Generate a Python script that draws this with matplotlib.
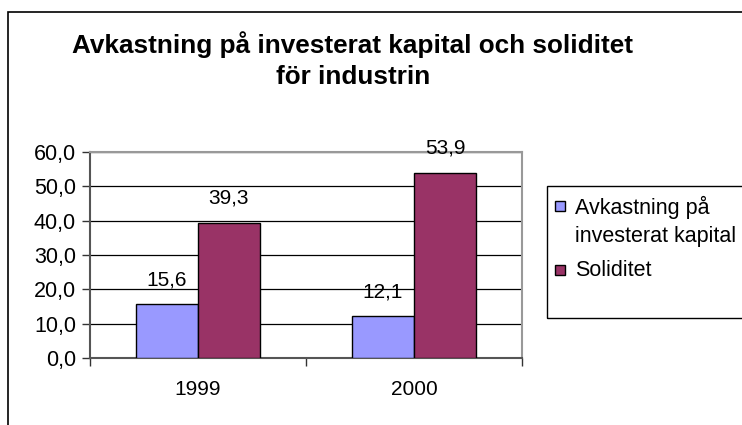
import numpy as np
import matplotlib
matplotlib.use("Agg")
import matplotlib.pyplot as plt
from matplotlib.patches import Rectangle

# data
years = ["1999", "2000"]
avkastning = [15.6, 12.1]
soliditet = [39.3, 53.9]
series_names = ["Avkastning på\ninvesterat kapital", "Soliditet"]
series_colors = ["#9999FF", "#993366"]
yticks = [0, 10, 20, 30, 40, 50, 60]

plt.rcParams["font.family"] = ["Liberation Sans", "DejaVu Sans"]

W, H = 742, 425
fig = plt.figure(figsize=(W / 100, H / 100), dpi=100)

# outer chart border (right and bottom fall outside the picture)
fig.patches.append(Rectangle((8 / W, -0.1), 1.2, 1.1 - 12 / H,
                             transform=fig.transFigure, fill=False,
                             edgecolor="#000000", linewidth=1.2))

# plot area
ax = fig.add_axes([90 / W, 1 - 358 / H, (522 - 90) / W, (358 - 152) / H])

x = np.arange(len(years))
bw = 0.287
b1 = ax.bar(x - bw / 2, avkastning, bw, color=series_colors[0], edgecolor="black",
            linewidth=1, zorder=3)
b2 = ax.bar(x + bw / 2, soliditet, bw, color=series_colors[1], edgecolor="black",
            linewidth=1, zorder=3)

for bars in (b1, b2):
    ax.bar_label(bars, labels=[f"{v:.1f}".replace(".", ",") for v in bars.datavalues],
                 padding=11, fontsize=15)

ax.set_xlim(-0.5, 1.5)
ax.set_ylim(0, 60)
ax.set_yticks(yticks)
ax.set_yticklabels([f"{v:.1f}".replace(".", ",") for v in yticks], fontsize=15.5)
ax.yaxis.grid(True, color="black", linewidth=0.9, zorder=0)
ax.set_axisbelow(True)

# category boundaries get tick marks, centres get the labels
ax.set_xticks([-0.5, 0.5, 1.5])
ax.set_xticklabels([])
ax.set_xticks(x, minor=True)
ax.set_xticklabels(years, minor=True, fontsize=15)
ax.tick_params(axis="x", which="major", length=6, width=1, color="#333333", direction="out")
ax.tick_params(axis="x", which="minor", length=0, pad=16)
ax.tick_params(axis="y", length=6, width=1, color="#333333", pad=4)

for side in ("top", "right"):
    ax.spines[side].set_color("#999999")
    ax.spines[side].set_linewidth(1.5)
for side in ("left", "bottom"):
    ax.spines[side].set_color("#555555")
    ax.spines[side].set_linewidth(1.5)

# title
fig.text(353 / W, 1 - 60 / H,
         "Avkastning på investerat kapital och soliditet\nför industrin",
         ha="center", va="center", fontsize=18.8, fontweight="bold", linespacing=1.4)

# legend, drawn by hand so the swatch sits on the first text line
fig.patches.append(Rectangle((547 / W, 1 - 318 / H), 1, (318 - 186) / H,
                             transform=fig.transFigure, fill=False,
                             edgecolor="black", linewidth=1))
item_tops = [196, 260]
for name, color, top in zip(series_names, series_colors, item_tops):
    fig.patches.append(Rectangle((555 / W, 1 - (top + 15) / H), 10 / W, 10 / H,
                                 transform=fig.transFigure, facecolor=color,
                                 edgecolor="black", linewidth=1))
    fig.text(575 / W, 1 - top / H, name, ha="left", va="top",
             fontsize=15.5, linespacing=1.45)

fig.savefig("out.png", dpi=100)
